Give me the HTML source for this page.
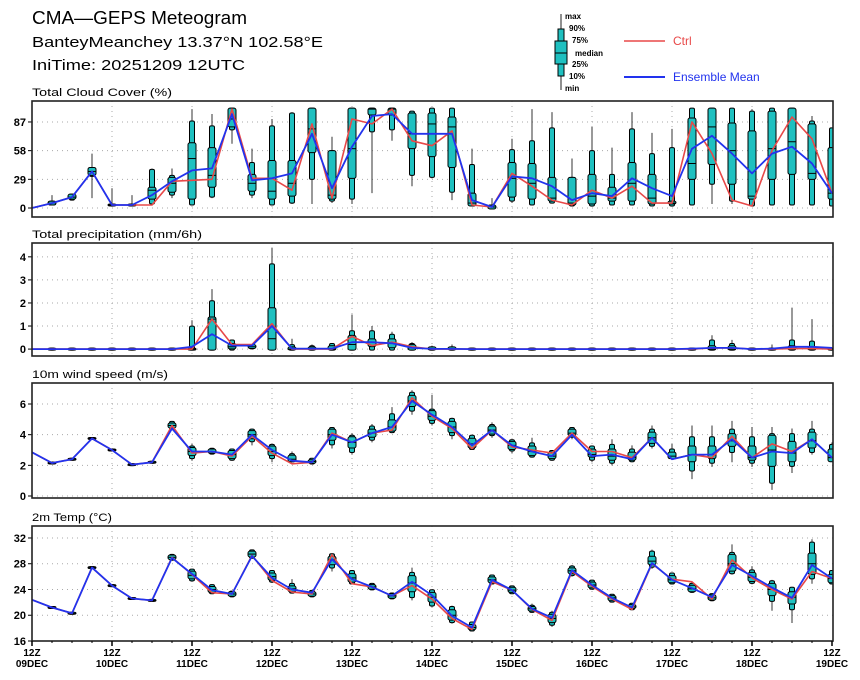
<!DOCTYPE html>
<html><head><meta charset="utf-8">
<style>
html,body{margin:0;padding:0;background:#fff;}
svg{display:block;font-family:"Liberation Sans",sans-serif;}
</style></head>
<body>
<svg id="chart" width="860" height="680" xmlns="http://www.w3.org/2000/svg">
<rect x="0" y="0" width="860" height="680" fill="#fff"/>
<text x="32" y="24" font-size="18" textLength="215" lengthAdjust="spacingAndGlyphs">CMA—GEPS Meteogram</text>
<text x="32" y="47" font-size="15" textLength="291" lengthAdjust="spacingAndGlyphs">BanteyMeanchey 13.37°N 102.58°E</text>
<text x="32" y="70" font-size="15" textLength="213" lengthAdjust="spacingAndGlyphs">IniTime: 20251209 12UTC</text>
<g>
  <line x1="561" y1="14" x2="561" y2="90" stroke="#222" stroke-width="1"/>
  <rect x="558" y="29" width="6" height="47" fill="#1fc0c0" stroke="#000"/>
  <rect x="555" y="41" width="12" height="23" fill="#1fc0c0" stroke="#000"/>
  <line x1="555" y1="53" x2="567" y2="53" stroke="#000"/>
  <g font-size="8" font-weight="bold">
    <text x="565" y="19">max</text><text x="569" y="31">90%</text><text x="572" y="43">75%</text>
    <text x="575" y="56">median</text><text x="572" y="67">25%</text><text x="569" y="79">10%</text><text x="565" y="91">min</text>
  </g>
  <line x1="624" y1="41" x2="665" y2="41" stroke="#e84848" stroke-width="1.5"/>
  <text x="673" y="45" font-size="12" fill="#e84848">Ctrl</text>
  <line x1="624" y1="77" x2="665" y2="77" stroke="#2233ee" stroke-width="2"/>
  <text x="673" y="81" font-size="12" fill="#2233ee">Ensemble Mean</text>
</g>
<g id="plots"></g>
</svg>
<script>
// ---- Data (41 steps, every 6h from 12Z 09DEC) ----
const dayLabels = ["09DEC","10DEC","11DEC","12DEC","13DEC","14DEC","15DEC","16DEC","17DEC","18DEC","19DEC"];

const cloudCtrl = [0,5,11,37,3,3,3,27,28,29,100,30,30,18,85,10,90,85,100,68,63,78,3,1,35,22,8,3,18,10,22,5,5,87,55,8,2,58,92,70,15];
const cloudMean = [0,5,11,37,3,3,13,27,38,40,95,28,30,35,75,20,62,93,95,75,75,75,8,1,32,30,22,8,15,12,30,20,12,60,73,55,35,55,62,45,15];
const cloudMin = [0,3,9,10,3,3,5,10,4,10,65,10,4,4,4,5,4,15,68,22,30,8,3,0,5,4,5,3,3,4,4,3,3,4,4,4,3,4,4,4,3];
const cloudP10 = [0,4,9,33,3,3,5,14,4,12,80,14,4,6,30,8,10,78,80,34,32,17,3,0,8,4,6,3,3,4,4,3,3,4,25,8,3,4,4,4,3];
const cloudP25 = [0,4,10,34,3,3,10,17,10,22,83,18,10,13,57,10,31,95,95,61,53,42,3,0,12,10,8,4,5,8,8,5,5,30,45,25,10,30,35,30,10];
const cloudMed = [0,5,11,37,3,3,18,25,50,33,90,25,17,25,80,13,60,100,100,75,85,82,5,1,30,25,10,5,12,10,25,10,5,45,82,58,12,60,67,35,15];
const cloudP75 = [0,6,13,40,3,3,20,30,65,60,100,33,47,47,100,57,100,100,100,95,95,91,14,2,45,44,30,30,33,20,45,33,6,90,100,85,77,97,100,84,60];
const cloudP90 = [0,6,13,40,3,3,38,32,87,82,100,45,82,95,100,57,100,100,100,97,100,100,43,2,58,67,80,30,57,33,79,54,60,100,100,100,97,100,100,87,80];
const cloudMax = [0,13,14,55,20,13,40,40,100,95,100,60,90,97,100,72,100,100,100,97,100,100,60,10,70,100,97,50,82,61,97,76,80,100,100,100,100,100,100,93,80];
const cloudTicks = [0,29,58,87];

const precCtrl = [0,0,0,0,0,0,0,0,0,1.3,0.2,0.2,1.1,0,0,0,0.55,0.15,0.3,0.1,0,0,0,0,0,0,0,0,0,0,0,0,0,0,0.05,0.05,0,0,0.02,0.02,0];
const precMean = [0,0,0,0,0,0,0,0,0.1,0.65,0.15,0.15,1.0,0.02,0.02,0.02,0.3,0.3,0.25,0.05,0.01,0.01,0,0,0,0,0,0,0,0,0,0,0,0.02,0.05,0.05,0,0.02,0.1,0.1,0.05];
const precMin = [0,0,0,0,0,0,0,0,0,0,0,0,0,0,0,0,0,0,0,0,0,0,0,0,0,0,0,0,0,0,0,0,0,0,0,0,0,0,0,0,0];
const precP10 = [0,0,0,0,0,0,0,0,0,0,0,0.05,0,0,0,0,0,0,0,0,0,0,0,0,0,0,0,0,0,0,0,0,0,0,0,0,0,0,0,0,0];
const precP25 = [0,0,0,0,0,0,0,0,0,0,0.05,0.07,0,0,0,0,0,0.15,0.1,0,0,0,0,0,0,0,0,0,0,0,0,0,0,0,0,0,0,0,0,0,0];
const precMed = [0,0,0,0,0,0,0,0,0,1.3,0.1,0.1,0.45,0,0,0,0.2,0.3,0.25,0.05,0,0,0,0,0,0,0,0,0,0,0,0,0,0,0,0,0,0,0,0,0];
const precP75 = [0,0,0,0,0,0,0,0,0,1.35,0.2,0.15,1.75,0.05,0.05,0.1,0.55,0.4,0.4,0.15,0.05,0.05,0,0,0,0,0,0,0,0,0,0,0,0,0.1,0.1,0,0,0.1,0.05,0];
const precP90 = [0,0,0,0,0,0,0,0,0.95,2.05,0.35,0.15,3.65,0.15,0.1,0.2,0.75,0.75,0.6,0.2,0.05,0.05,0,0,0,0,0,0,0,0,0,0,0,0,0.35,0.2,0,0,0.35,0.3,0];
const precMax = [0,0,0,0,0,0,0,0,1.25,2.6,0.4,0.15,4.4,0.45,0.2,0.25,1.5,1.0,0.75,0.3,0.15,0.2,0.05,0,0,0,0,0.03,0,0,0.02,0.02,0,0.05,0.6,0.4,0,0.2,1.8,1.3,0];
const precTicks = [0,1,2,3,4];

const windCtrl = [2.85,2.15,2.4,3.75,3.0,2.05,2.2,4.6,2.8,2.9,2.6,3.9,2.8,2.1,2.2,4.1,3.5,4.1,4.3,6.4,5.2,4.4,3.1,4.3,3.2,3.0,2.8,4.1,2.9,2.9,2.5,3.8,2.4,2.7,2.5,3.9,2.5,3.4,2.9,3.7,2.5];
const windMean = [2.85,2.15,2.4,3.75,3.0,2.05,2.2,4.4,2.9,2.9,2.7,4.0,3.0,2.3,2.2,4.0,3.5,4.1,4.5,6.2,5.3,4.5,3.3,4.3,3.3,2.9,2.6,4.0,2.6,2.7,2.4,3.8,2.4,2.7,2.7,3.7,2.5,2.9,2.8,3.7,2.5];
const windMin = [2.85,2.15,2.4,3.75,3.0,2.05,2.2,4.3,2.3,2.75,2.3,3.3,2.2,2.2,2.1,3.1,2.7,3.5,4.1,5.3,4.6,3.7,3.0,3.8,2.8,2.5,2.3,3.7,2.2,2.0,2.2,3.1,2.4,1.1,1.9,2.2,1.9,0.4,1.5,2.7,2.3];
const windP10 = [2.85,2.15,2.4,3.75,3.0,2.05,2.2,4.4,2.5,2.8,2.4,3.6,2.5,2.3,2.15,3.4,2.9,3.7,4.2,5.6,4.8,4.0,3.1,4.0,3.0,2.6,2.4,3.9,2.4,2.2,2.3,3.3,2.5,1.7,2.2,2.9,2.2,0.9,2.0,2.9,2.4];
const windP25 = [2.85,2.15,2.4,3.75,3.0,2.05,2.2,4.5,2.7,2.85,2.5,3.8,2.7,2.3,2.2,3.7,3.2,3.9,4.3,5.9,5.0,4.2,3.2,4.1,3.1,2.7,2.5,4.0,2.6,2.4,2.4,3.5,2.5,2.3,2.5,3.3,2.4,2.0,2.3,3.2,2.3];
const windMed = [2.85,2.15,2.4,3.75,3.0,2.05,2.2,4.6,2.9,2.9,2.7,4.0,2.9,2.4,2.25,4.0,3.5,4.1,4.5,6.2,5.2,4.5,3.4,4.3,3.3,2.9,2.6,4.1,2.7,2.6,2.5,3.8,2.6,2.7,2.7,3.6,2.5,3.0,2.8,3.6,2.5];
const windP75 = [2.85,2.15,2.4,3.75,3.0,2.05,2.2,4.7,3.1,3.0,2.9,4.2,3.2,2.6,2.3,4.3,3.8,4.3,4.9,6.5,5.5,4.8,3.7,4.5,3.5,3.2,2.8,4.3,3.0,3.0,2.8,4.1,2.8,3.2,3.2,4.0,3.2,3.9,3.5,4.1,3.0];
const windP90 = [2.85,2.15,2.4,3.75,3.0,2.05,2.2,4.8,3.2,3.05,3.0,4.3,3.3,2.7,2.4,4.4,3.9,4.5,5.3,6.7,5.6,5.0,3.9,4.6,3.6,3.4,2.9,4.4,3.2,3.3,3.0,4.3,3.0,3.8,3.8,4.3,3.8,4.0,4.0,4.3,3.3];
const windMax = [2.85,2.15,2.4,3.75,3.0,2.05,2.2,4.8,3.4,3.1,3.0,4.4,3.4,2.9,2.4,4.5,4.1,4.7,5.8,6.9,6.6,5.1,4.0,4.8,3.7,3.8,3.0,4.5,3.3,3.7,3.3,4.6,3.4,4.6,4.6,4.9,4.5,4.5,4.4,4.9,3.5];
const windTicks = [0,2,4,6];

const tempCtrl = [22.4,21.2,20.3,27.4,24.6,22.6,22.3,29.0,26.3,23.5,23.3,29.3,25.4,23.6,23.3,29.4,24.9,24.4,23.0,24.6,22.5,19.5,17.8,25.2,23.9,20.9,19.2,26.8,24.5,22.5,20.9,28.0,25.6,25.2,22.5,28.6,25.8,24.0,22.5,26.8,25.7];
const tempMean = [22.4,21.2,20.3,27.4,24.6,22.6,22.3,28.9,26.4,23.9,23.3,29.2,25.8,24.0,23.5,28.7,25.6,24.4,23.0,25.2,23.1,19.9,18.1,25.5,23.9,21.0,19.6,27.0,24.7,22.7,21.2,28.1,25.5,24.2,22.8,27.8,26.1,24.3,22.7,27.8,25.7];
const tempMin = [22.4,21.2,20.3,27.4,24.6,22.6,22.3,28.6,25.2,23.3,22.9,28.8,25.0,23.4,22.9,26.8,24.8,24.0,22.6,22.3,21.2,18.7,17.5,24.8,23.3,20.4,18.2,26.0,24.0,22.0,20.8,27.2,24.8,23.5,22.2,26.3,24.8,20.7,18.8,24.9,24.8];
const tempP10 = [22.4,21.2,20.3,27.4,24.6,22.6,22.3,28.7,25.5,23.5,23.0,29.0,25.3,23.6,23.0,27.5,25.0,24.1,22.7,22.9,21.6,19.0,17.7,25.0,23.5,20.6,18.6,26.3,24.2,22.2,21.0,27.6,25.0,23.7,22.4,26.6,25.1,22.3,21.0,25.8,25.0];
const tempP25 = [22.4,21.2,20.3,27.4,24.6,22.6,22.3,28.8,25.8,23.7,23.1,29.2,25.6,23.8,23.1,28.0,25.3,24.2,22.8,23.8,22.2,19.4,17.9,25.2,23.7,20.8,19.0,26.6,24.4,22.4,21.2,28.0,25.2,23.8,22.5,27.0,25.4,23.2,21.9,26.5,25.2];
const tempMed = [22.4,21.2,20.3,27.4,24.6,22.6,22.3,29.0,26.2,24.0,23.3,29.5,26.0,24.1,23.3,28.6,25.8,24.4,23.0,25.0,22.8,20.0,18.1,25.5,23.9,21.0,19.5,26.9,24.7,22.7,21.3,28.4,25.5,24.1,22.7,28.0,25.9,24.0,22.8,28.0,25.7];
const tempP75 = [22.4,21.2,20.3,27.4,24.6,22.6,22.3,29.2,26.7,24.3,23.5,29.8,26.4,24.4,23.5,29.0,26.3,24.6,23.2,26.0,23.4,20.7,18.4,25.8,24.2,21.2,20.0,27.2,25.0,22.9,21.5,29.0,26.0,24.5,23.0,29.3,26.5,24.8,23.5,29.5,26.2];
const tempP90 = [22.4,21.2,20.3,27.4,24.6,22.6,22.3,29.3,27.0,24.6,23.6,30.0,26.8,24.8,23.7,29.4,26.8,24.8,23.3,26.5,23.8,21.2,18.8,26.1,24.4,21.4,20.3,27.5,25.3,23.1,21.7,29.8,26.4,24.8,23.2,29.6,26.9,25.2,24.2,31.2,26.8];
const tempMax = [22.4,21.2,20.3,27.4,24.6,22.6,22.3,29.4,27.2,24.8,23.8,30.0,27.0,25.6,23.9,29.6,27.0,24.9,23.3,27.4,24.0,21.5,19.0,26.2,24.5,21.8,20.7,27.8,25.3,23.3,21.8,30.2,26.4,25.2,23.3,31.0,27.6,25.5,24.4,31.8,26.8];
const tempTicks = [16,20,24,28,32];

// ---- Drawing ----
const NS = "http://www.w3.org/2000/svg";
const X0 = 32, X1 = 833, NSTEP = 40;
function xPos(i){ return X0 + (X1 - 1 - X0) * i / NSTEP; }
function mk(tag, attrs, parent){
  const e = document.createElementNS(NS, tag);
  for (const k in attrs) e.setAttribute(k, attrs[k]);
  parent.appendChild(e);
  return e;
}
const root = document.getElementById("plots");

const panels = [
  {name:"cloud", title:"Total Cloud Cover (%)", titleLen:140, top:101, bottom:217, vmin:-9.1, vmax:108.2, ticks:cloudTicks,
   ctrl:cloudCtrl, mean:cloudMean, q:[cloudMin,cloudP10,cloudP25,cloudMed,cloudP75,cloudP90,cloudMax]},
  {name:"precip", title:"Total precipitation (mm/6h)", titleLen:170, top:243, bottom:356, vmin:-0.3, vmax:4.6, ticks:precTicks,
   ctrl:precCtrl, mean:precMean, q:[precMin,precP10,precP25,precMed,precP75,precP90,precMax]},
  {name:"wind", title:"10m wind speed (m/s)", titleLen:136, top:383, bottom:498, vmin:-0.13, vmax:7.37, ticks:windTicks,
   ctrl:windCtrl, mean:windMean, q:[windMin,windP10,windP25,windMed,windP75,windP90,windMax]},
  {name:"temp", title:"2m Temp (°C)", titleLen:80, top:526, bottom:641, vmin:16, vmax:33.86, ticks:tempTicks,
   ctrl:tempCtrl, mean:tempMean, q:[tempMin,tempP10,tempP25,tempMed,tempP75,tempP90,tempMax]}
];

panels.forEach(function(p, pi){
  const yPos = function(v){ return p.bottom - (v - p.vmin) / (p.vmax - p.vmin) * (p.bottom - p.top); };
  const g = mk("g", {}, root);
  
  
  const clipId = "clip" + pi;
  const cp = mk("clipPath", {id: clipId}, g);
  mk("rect", {x: X0, y: p.top, width: X1 - X0, height: p.bottom - p.top}, cp);

  const t = mk("text", {x: X0, y: p.top - 5, "font-size": 11, textLength: p.titleLen, lengthAdjust: "spacingAndGlyphs"}, g);
  t.textContent = p.title;
  
  

  for (let d = 1; d < dayLabels.length - 1; d++){
    const gx = xPos(d * 4);
    const gl = mk("line", {x1: gx, y1: p.top, x2: gx, y2: p.bottom, stroke: "#aaa", "stroke-width": 1, "stroke-dasharray": "1,4"}, g);
    
    
  }
  p.ticks.forEach(function(v){
    const ty = yPos(v);
    const gl = mk("line", {x1: X0, y1: ty, x2: X1, y2: ty, stroke: "#aaa", "stroke-width": 1, "stroke-dasharray": "1,4"}, g);
    
    
    mk("line", {x1: X0 - 4, y1: ty, x2: X0, y2: ty, stroke: "#000", "stroke-width": 1}, g);
    const lb = mk("text", {x: X0 - 6, y: ty + 4, "font-size": 11, "font-weight": "bold", "text-anchor": "end"}, g);
    lb.textContent = String(v);
    
    
  });

  const inner = mk("g", {"clip-path": "url(#" + clipId + ")"}, g);
  for (let i = 1; i <= NSTEP; i++){
    const cx = xPos(i);
    const mn = p.q[0][i], p10 = p.q[1][i], p25 = p.q[2][i], md = p.q[3][i], p75 = p.q[4][i], p90 = p.q[5][i], mx = p.q[6][i];
    const bg = mk("g", {}, inner);
    
    
    mk("line", {x1: cx, y1: yPos(mn), x2: cx, y2: yPos(mx), stroke: "#333", "stroke-width": 1}, bg);
    const y90 = yPos(p90), y10 = yPos(p10);
    mk("rect", {x: cx - 2.5, y: y90 - 1, width: 5, height: Math.max(y10 - y90, 0) + 2, rx: 1.5, fill: "#1fc0c0", stroke: "#000", "stroke-width": 1}, bg);
    const y75 = yPos(p75), y25 = yPos(p25);
    mk("rect", {x: cx - 4, y: y75 - 1, width: 8, height: Math.max(y25 - y75, 0) + 2, rx: 2, fill: "#1fc0c0", stroke: "#000", "stroke-width": 1}, bg);
    const ym = yPos(md);
    mk("line", {x1: cx - 4, y1: ym, x2: cx + 4, y2: ym, stroke: "#000", "stroke-width": 1}, bg);
  }
  const ptsC = p.ctrl.map(function(v, i){ return xPos(i).toFixed(1) + "," + yPos(v).toFixed(1); }).join(" ");
  const lc = mk("polyline", {points: ptsC, fill: "none", stroke: "#e84848", "stroke-width": 1.6, "stroke-linejoin": "round"}, inner);
  
  
  const ptsM = p.mean.map(function(v, i){ return xPos(i).toFixed(1) + "," + yPos(v).toFixed(1); }).join(" ");
  const lm = mk("polyline", {points: ptsM, fill: "none", stroke: "#2233ee", "stroke-width": 1.8, "stroke-linejoin": "round"}, inner);
  
  

  const fr = mk("rect", {x: X0, y: p.top, width: X1 - X0, height: p.bottom - p.top, fill: "none", stroke: "#222", "stroke-width": 1.6}, g);
  
  

  if (pi === panels.length - 1){
    for (let d = 0; d < dayLabels.length; d++){
      const tx = xPos(d * 4);
      mk("line", {x1: tx, y1: p.bottom, x2: tx, y2: p.bottom + 5, stroke: "#000", "stroke-width": 1.5}, g);
      const l1 = mk("text", {x: tx, y: 656, "font-size": 10, "font-weight": "bold", "text-anchor": "middle"}, g);
      l1.textContent = "12Z";
      
      
      const l2 = mk("text", {x: tx, y: 667, "font-size": 10, "font-weight": "bold", "text-anchor": "middle"}, g);
      l2.textContent = dayLabels[d];
      
      
    }
    for (let i = 0; i <= NSTEP; i++){
      mk("line", {x1: xPos(i), y1: p.bottom, x2: xPos(i), y2: p.bottom + 2, stroke: "#000", "stroke-width": 1}, g);
    }
  }
});
</script>
</body></html>
